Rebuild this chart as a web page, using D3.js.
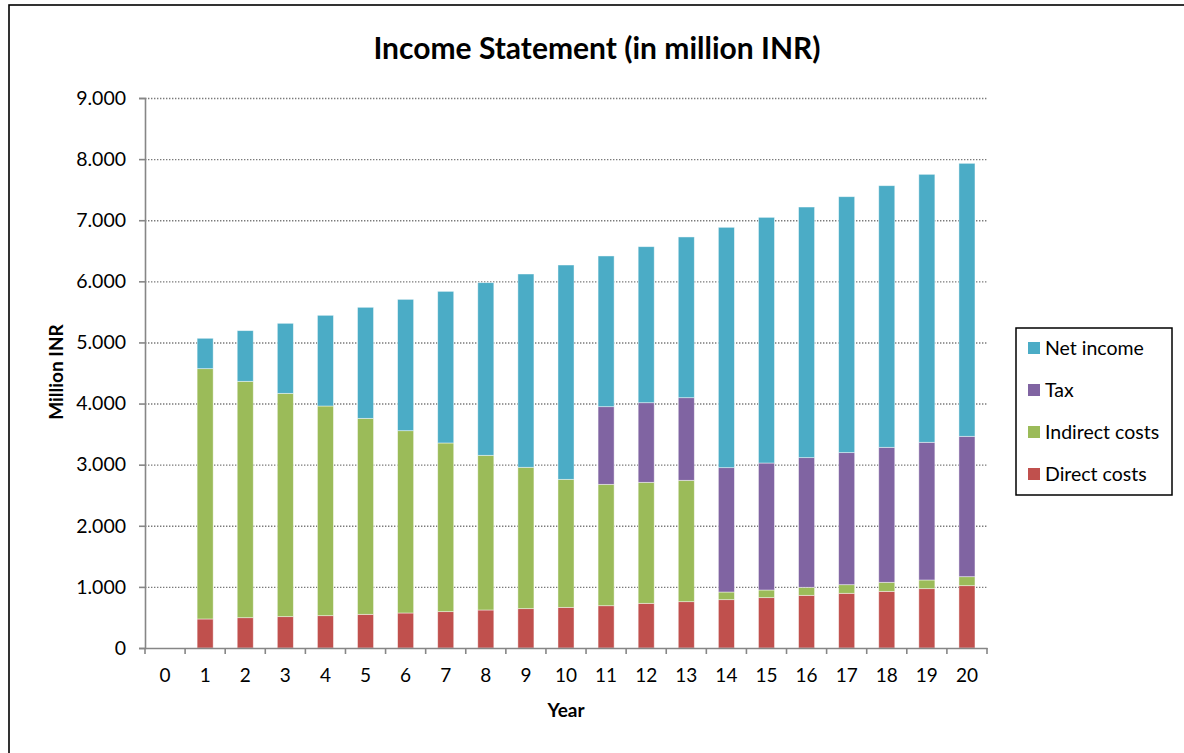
<!DOCTYPE html>
<html>
<head>
<meta charset="utf-8">
<script src="https://cdn.jsdelivr.net/npm/d3@7"></script>
<style>
  html, body { margin: 0; padding: 0; background: #fff; }
  svg { display: block; font-family: Lato, "Open Sans", sans-serif; }
</style>
</head>
<body>
<svg id="chart" width="1184" height="753"></svg>
<script>
// Years 0..20
const years = d3.range(0, 21);

// Stacked components (million INR), year 0 has no values
const directCosts   = [0, 475, 496, 513, 529, 551, 573, 595, 622, 644, 665, 692, 731, 758, 791, 824, 862, 895, 927, 971, 1020];
const indirectCosts = [0, 4096, 3868, 3654, 3431, 3207, 2983, 2760, 2531, 2313, 2095, 1986, 1980, 1986, 125, 125, 131, 141, 148, 142, 147];
const tax           = [0, 0, 0, 0, 0, 0, 0, 0, 0, 0, 0, 1271, 1303, 1352, 2035, 2078, 2122, 2161, 2209, 2253, 2297];
const netIncome     = [0, 497, 829, 1146, 1484, 1817, 2149, 2481, 2825, 3163, 3507, 2466, 2553, 2630, 3933, 4020, 4101, 4188, 4281, 4385, 4467];

const seriesNames = ["Direct costs", "Indirect costs", "Tax", "Net income"];
const yTicks = [0, 1000, 2000, 3000, 4000, 5000, 6000, 7000, 8000, 9000];
const yTickLabels = ["0", "1.000", "2.000", "3.000", "4.000", "5.000", "6.000", "7.000", "8.000", "9.000"];

const colors = {
  "Direct costs": "#C0504D",
  "Indirect costs": "#9BBB59",
  "Tax": "#8064A2",
  "Net income": "#4BACC6"
};

const rows = years.map((y, i) => ({
  year: y,
  "Direct costs": directCosts[i],
  "Indirect costs": indirectCosts[i],
  "Tax": tax[i],
  "Net income": netIncome[i]
}));

const svg = d3.select("#chart");

// outer frame
svg.append("rect")
  .attr("x", 9).attr("y", 5)
  .attr("width", 1200).attr("height", 800)
  .attr("fill", "#fff").attr("stroke", "#000").attr("stroke-width", 1.6);

const plot = { left: 145, right: 987, top: 98, bottom: 648 };

const x = d3.scaleBand()
  .domain(years)
  .range([plot.left, plot.right])
  .paddingInner(0.6).paddingOuter(0.3);

const y = d3.scaleLinear()
  .domain([0, 9000])
  .range([plot.bottom, plot.top]);

// gridlines
svg.append("g")
  .selectAll("line")
  .data(yTicks.slice(1))
  .join("line")
  .attr("x1", plot.left).attr("x2", plot.right)
  .attr("y1", d => y(d) + 0.5).attr("y2", d => y(d) + 0.5)
  .attr("stroke", "#7a7a7a").attr("stroke-width", 1.4)
  .attr("stroke-dasharray", "1.4,1.6");

// stacked bars
const stack = d3.stack().keys(seriesNames);
const layers = stack(rows);

svg.append("g")
  .selectAll("g")
  .data(layers)
  .join("g")
  .attr("fill", d => colors[d.key])
  .selectAll("rect")
  .data(d => d.filter(s => s[1] - s[0] > 0))
  .join("rect")
  .attr("x", d => x(d.data.year))
  .attr("width", x.bandwidth())
  .attr("y", d => y(d[1]))
  .attr("height", d => y(d[0]) - y(d[1]))
  .attr("stroke", "rgba(255,255,255,0.55)")
  .attr("stroke-width", 0.8);

// y axis
const yAxis = d3.axisLeft(y)
  .tickValues(yTicks)
  .tickFormat((d, i) => yTickLabels[i])
  .tickSize(6)
  .tickPadding(13);

const gy = svg.append("g")
  .attr("transform", `translate(${plot.left},0)`)
  .call(yAxis);
gy.select(".domain").attr("stroke", "#868686").attr("stroke-width", 1.6);
gy.selectAll(".tick line").attr("stroke", "#868686").attr("stroke-width", 1.6);
gy.selectAll(".tick text")
  .attr("fill", "#000").attr("font-size", 19.5)
  .attr("font-family", "Lato, sans-serif");

// x axis with ticks at band edges
const xAxis = d3.axisBottom(x).tickSize(0).tickPadding(21);
const gx = svg.append("g")
  .attr("transform", `translate(0,${plot.bottom})`)
  .call(xAxis);
gx.select(".domain").attr("stroke", "#868686").attr("stroke-width", 1.6);
gx.selectAll(".tick text")
  .attr("fill", "#000").attr("font-size", 19)
  .attr("font-family", "Lato, sans-serif");

const edges = d3.range(0, years.length + 1).map(i => plot.left + i * (plot.right - plot.left) / years.length);
svg.append("g")
  .selectAll("line")
  .data(edges)
  .join("line")
  .attr("x1", d => d).attr("x2", d => d)
  .attr("y1", plot.bottom).attr("y2", plot.bottom + 6)
  .attr("stroke", "#868686").attr("stroke-width", 1.6);

// title
svg.append("text")
  .attr("x", 597).attr("y", 59)
  .attr("text-anchor", "middle")
  .attr("font-size", 30).attr("font-weight", "bold")
  .text("Income Statement (in million INR)");

// axis titles
svg.append("text")
  .attr("x", 566).attr("y", 717)
  .attr("text-anchor", "middle")
  .attr("font-size", 19).attr("font-weight", "bold")
  .text("Year");

svg.append("text")
  .attr("transform", "translate(63,372) rotate(-90)")
  .attr("text-anchor", "middle")
  .attr("font-size", 19).attr("font-weight", "bold")
  .text("Million INR");

// legend
const legend = svg.append("g");
legend.append("rect")
  .attr("x", 1016).attr("y", 328)
  .attr("width", 156).attr("height", 167)
  .attr("fill", "#fff").attr("stroke", "#000").attr("stroke-width", 1.5);

const legendOrder = ["Net income", "Tax", "Indirect costs", "Direct costs"];
const li = legend.selectAll("g.item")
  .data(legendOrder)
  .join("g")
  .attr("class", "item")
  .attr("transform", (d, i) => `translate(1028,${348 + i * 42})`);
li.append("rect")
  .attr("x", 0).attr("y", -6)
  .attr("width", 12).attr("height", 12)
  .attr("fill", d => colors[d]);
li.append("text")
  .attr("x", 17).attr("y", 7)
  .attr("font-size", 19.5)
  .text(d => d);
</script>
</body>
</html>
